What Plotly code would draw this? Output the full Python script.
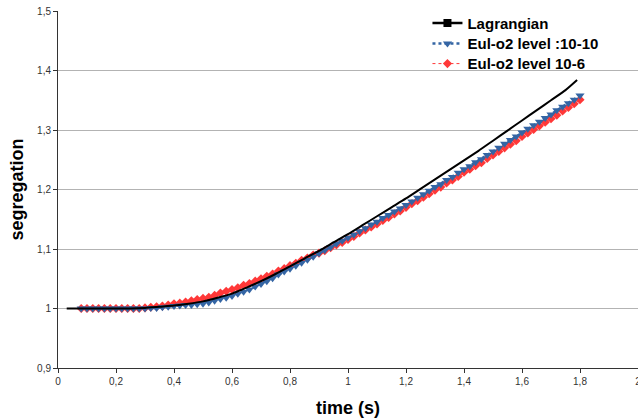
import plotly.graph_objects as go

# Lagrangian reference curve
lag_t = [0.03, 0.1, 0.2, 0.25, 0.3, 0.35, 0.4, 0.45, 0.5, 0.55, 0.6, 0.65, 0.7, 0.75,
         0.8, 0.85, 0.9, 0.95, 1.0, 1.05, 1.1, 1.15, 1.2, 1.25, 1.3, 1.35, 1.4, 1.45,
         1.5, 1.55, 1.6, 1.65, 1.7, 1.75, 1.79]
lag_s = [1.000, 1.000, 1.000, 1.000, 1.001, 1.003, 1.005, 1.008, 1.012, 1.018, 1.025,
         1.035, 1.046, 1.058, 1.071, 1.084, 1.097, 1.111, 1.125, 1.140, 1.155, 1.170,
         1.185, 1.201, 1.217, 1.233, 1.249, 1.265, 1.282, 1.299, 1.316, 1.333, 1.350,
         1.367, 1.384]

# Eulerian samples (shared time axis)
eul_t = [0.08, 0.10, 0.12, 0.14, 0.16, 0.18, 0.20, 0.22, 0.24, 0.26, 0.28, 0.30,
         0.32, 0.34, 0.36, 0.38, 0.40, 0.42, 0.44, 0.46, 0.48, 0.50, 0.52, 0.54,
         0.56, 0.58, 0.60, 0.62, 0.64, 0.66, 0.68, 0.70, 0.72, 0.74, 0.76, 0.78,
         0.80, 0.82, 0.84, 0.86, 0.88, 0.90, 0.92, 0.94, 0.96, 0.98, 1.00, 1.02,
         1.04, 1.06, 1.08, 1.10, 1.12, 1.14, 1.16, 1.18, 1.20, 1.22, 1.24, 1.26,
         1.28, 1.30, 1.32, 1.34, 1.36, 1.38, 1.40, 1.42, 1.44, 1.46, 1.48, 1.50,
         1.52, 1.54, 1.56, 1.58, 1.60, 1.62, 1.64, 1.66, 1.68, 1.70, 1.72, 1.74,
         1.76, 1.78, 1.80]

eul_1010 = [1.000, 1.000, 1.000, 1.000, 1.000, 1.000, 1.000, 1.000, 1.000, 1.000, 1.000, 1.000,
            1.001, 1.001, 1.002, 1.003, 1.004, 1.005, 1.006, 1.006, 1.007, 1.008, 1.010, 1.013,
            1.016, 1.018, 1.021, 1.025, 1.028, 1.032, 1.037, 1.041, 1.046, 1.051, 1.057, 1.062,
            1.067, 1.072, 1.077, 1.082, 1.087, 1.093, 1.098, 1.103, 1.109, 1.114, 1.119, 1.124,
            1.130, 1.135, 1.141, 1.146, 1.152, 1.157, 1.163, 1.168, 1.174, 1.180, 1.186, 1.192,
            1.198, 1.204, 1.209, 1.216, 1.221, 1.228, 1.234, 1.239, 1.246, 1.251, 1.258, 1.264,
            1.270, 1.277, 1.283, 1.289, 1.296, 1.302, 1.308, 1.314, 1.320, 1.326, 1.333, 1.339,
            1.345, 1.351, 1.358]

eul_106 = [1.000, 1.000, 1.000, 1.000, 1.000, 1.000, 1.000, 1.000, 1.000, 1.000, 1.000, 1.001,
           1.002, 1.003, 1.004, 1.006, 1.008, 1.009, 1.011, 1.013, 1.015, 1.017, 1.019, 1.022,
           1.026, 1.029, 1.032, 1.035, 1.039, 1.042, 1.046, 1.050, 1.054, 1.058, 1.063, 1.067,
           1.072, 1.076, 1.081, 1.085, 1.090, 1.093, 1.097, 1.102, 1.107, 1.111, 1.116, 1.121,
           1.127, 1.132, 1.137, 1.142, 1.148, 1.153, 1.159, 1.164, 1.170, 1.176, 1.181, 1.187,
           1.193, 1.199, 1.204, 1.211, 1.216, 1.222, 1.229, 1.234, 1.240, 1.245, 1.252, 1.258,
           1.264, 1.270, 1.276, 1.282, 1.289, 1.295, 1.301, 1.307, 1.313, 1.319, 1.325, 1.332,
           1.338, 1.344, 1.351]

names = ["Lagrangian", "Eul-o2 level :10-10", "Eul-o2 level 10-6"]
x_ticks = [0, 0.2, 0.4, 0.6, 0.8, 1, 1.2, 1.4, 1.6, 1.8, 2]
y_ticks = [0.9, 1, 1.1, 1.2, 1.3, 1.4, 1.5]

FONT = "Liberation Sans, Arial, sans-serif"
BLUE = "#3465a4"
RED = "#ff3838"

fig = go.Figure()

# legend entry for the Lagrangian series (line + square symbol)
fig.add_trace(go.Scatter(
    x=[None], y=[None], name=names[0], mode="lines+markers", legend="legend",
    line=dict(color="black", width=2.5),
    marker=dict(symbol="square", size=8, color="black")))

fig.add_trace(go.Scatter(
    x=eul_t, y=eul_106, name=names[2], mode="lines+markers", legend="legend3",
    line=dict(color=RED, width=1, dash="dot"),
    marker=dict(symbol="diamond", size=7, color=RED)))

fig.add_trace(go.Scatter(
    x=eul_t, y=eul_1010, name=names[1], mode="lines+markers", legend="legend2",
    line=dict(color=BLUE, width=2.5, dash="dot"),
    marker=dict(symbol="triangle-down", size=8, color=BLUE)))

fig.add_trace(go.Scatter(
    x=lag_t, y=lag_s, name=names[0], mode="lines", showlegend=False,
    line=dict(color="black", width=2, shape="spline", smoothing=0.6)))


def leg(y):
    return dict(x=0.637, y=y, xanchor="left", yanchor="middle",
                bgcolor="rgba(0,0,0,0)", borderwidth=0,
                font=dict(family=FONT, size=15, color="black", weight="bold"))


fig.update_layout(
    width=638, height=420,
    margin=dict(l=58, r=0, t=11, b=52, autoexpand=False),
    paper_bgcolor="white", plot_bgcolor="white",
    separators=", ",
    font=dict(family=FONT, size=10, color="#333333"),
    showlegend=True,
    hovermode=False,
    legend=leg(0.966),
    legend2=leg(0.908),
    legend3=leg(0.852),
    xaxis=dict(range=[0, 2], tickvals=x_ticks, showgrid=False, zeroline=False,
               showline=True, linecolor="#333333", linewidth=1,
               ticks="outside", ticklen=4, tickcolor="#333333", automargin=False,
               ticklabeloverflow="allow",
               title=dict(text="time (s)", standoff=15,
                          font=dict(family=FONT, size=18, color="black", weight="bold"))),
    yaxis=dict(range=[0.9, 1.5], tickvals=y_ticks, showgrid=True, gridcolor="#b3b3b3",
               gridwidth=1, zeroline=False, showline=True, linecolor="#333333", linewidth=1,
               ticks="outside", ticklen=4, tickcolor="#333333", automargin=False,
               ticklabeloverflow="allow",
               title=dict(text="segregation", standoff=8,
                          font=dict(family=FONT, size=18, color="black", weight="bold"))),
)

fig.write_html("out.html", config={"displayModeBar": False},
               post_script="document.body.style.margin='0';document.body.style.overflow='hidden';")
